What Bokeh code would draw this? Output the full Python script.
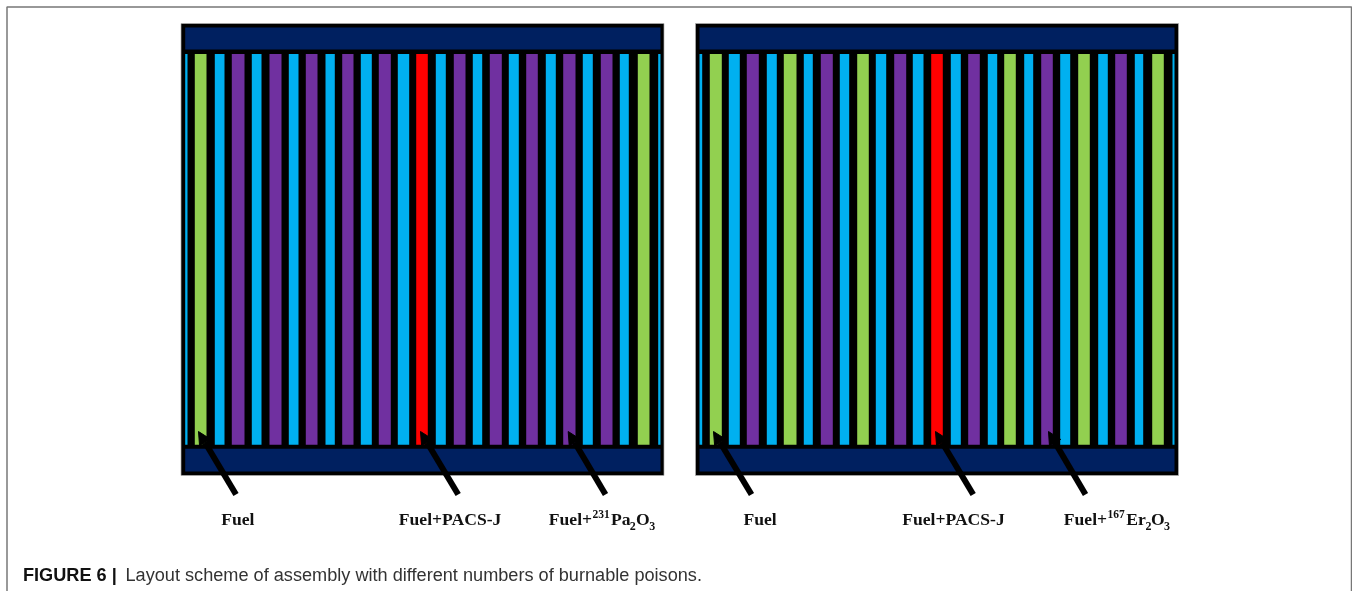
from bokeh.plotting import figure
from bokeh.models import Range1d, ColumnDataSource, Arrow, NormalHead
from bokeh.core.properties import value
from bokeh.embed import file_html
from bokeh.resources import INLINE

# rod kinds, read left to right
left_kinds = ["blue","green","blue","purple","blue","purple","blue","purple","blue","purple","blue","purple","blue","red",
              "blue","purple","blue","purple","blue","purple","blue","purple","blue","purple","blue","green","blue"]
left_from = [184.7,194.3,214.3,231.3,251.3,269,288.3,305.3,325,341.7,360.3,378.3,397.3,415.7,
             435.3,453.3,472.3,489.3,508.3,525.7,545.3,562.7,582.3,600.3,619.3,637.3,657.7]
left_to = [187,206,224,244,261,281,298,317,334.3,353,371.3,390.3,408.7,427.3,
           445.3,465,481.7,501.3,518.3,537.3,555.3,575,592.3,612,628.3,649,660]
right_kinds = ["blue","green","blue","purple","blue","green","blue","purple","blue","green","blue","purple","blue","red",
               "blue","purple","blue","green","blue","purple","blue","green","blue","purple","blue","green","blue"]
right_from = [699,709.3,728.3,746.3,766.3,783.3,803.3,820.3,839.3,856.7,875.3,893.7,912.3,930.7,
              950.3,967.7,987.3,1003.7,1023.7,1040.7,1059.7,1077.7,1097.7,1114.7,1134.3,1151.7,1172]
right_to = [701.7,721.3,739.3,758.3,776.3,796,812.3,832.3,848.7,868.3,885.7,905.7,923,942.3,
            960.3,979.3,996.7,1015.3,1032.7,1052.3,1069.7,1089.3,1107.3,1126.3,1142.7,1163.3,1174]
rod_top = 53.5
rod_bottom = 444.3

panel_left = [180.5, 695]
panel_right = [663.5, 1178]
panel_top = 23
panel_bottom = 475
band_left = [184.7, 699]
band_right = [660, 1174]
band_top = [27, 448.3]
band_bottom = [49, 471]

arrow_tail_x = [235.5, 457.7, 605, 751, 972.7, 1085]
arrow_tip_x = [198, 420, 567.7, 713, 935, 1048]
arrow_tail_y = 494
arrow_tip_y = 431

labels = ["Fuel", "Fuel+PACS-J", "Fuel+", "Pa", "O", "Fuel", "Fuel+PACS-J", "Fuel+", "Er", "O"]
label_x = [220.7, 398.3, 548.3, 610.5, 635.5, 743, 901.7, 1063.3, 1125.7, 1150.5]
label_y = 518.5
sup_text = ["231", "167"]
sup_x = [592, 1107]
sup_y = 513.5
sub_text = ["2", "3", "2", "3"]
sub_x = [629.3, 648.7, 1145, 1163.4]
sub_y = 525.5

caption_bold = "FIGURE 6 |"
caption_text = "Layout scheme of assembly with different numbers of burnable poisons."
caption_y = 574

COLORS = {"blue": "#00B0F0", "green": "#92D050", "purple": "#7030A0", "red": "#FF0000"}
NAVY = "#002060"

p = figure(width=1352, height=591, output_backend="svg", toolbar_location=None,
           x_range=Range1d(0, 1352), y_range=Range1d(591, 0),
           min_border=0, min_border_left=0, min_border_right=0, min_border_top=0, min_border_bottom=0,
           outline_line_color=None, background_fill_color="white", border_fill_color="white")
p.styles = {"position": "fixed", "left": "0px", "top": "0px"}
p.xaxis.visible = False
p.yaxis.visible = False
p.grid.visible = False

# surrounding page frame
p.line([6.5, 6.5, 1351, 1351], [591, 6.5, 6.5, 591], line_color="#777777", line_width=1.5)

# panels
p.quad(left=panel_left, right=panel_right, top=[panel_top]*2, bottom=[panel_bottom]*2,
       fill_color="black", line_color="#b0b0b0", line_width=0.7)
for t, b in zip(band_top, band_bottom):
    p.quad(left=band_left, right=band_right, top=[t]*2, bottom=[b]*2, fill_color=NAVY, line_color=None)

# rods
for kinds, x0, x1 in ((left_kinds, left_from, left_to), (right_kinds, right_from, right_to)):
    p.quad(left=x0, right=x1, top=[rod_top]*len(x0), bottom=[rod_bottom]*len(x0),
           fill_color=[COLORS[k] for k in kinds], line_color=None)

# arrows
src = ColumnDataSource(dict(x0=arrow_tail_x, x1=arrow_tip_x, y0=[arrow_tail_y]*6, y1=[arrow_tip_y]*6))
p.add_layout(Arrow(source=src, x_start="x0", y_start="y0", x_end="x1", y_end="y1",
                   line_color="black", line_width=6,
                   end=NormalHead(size=13, fill_color="black", line_color="black")))

# labels
serif = dict(text_font=value("Liberation Serif"), text_font_style="bold", text_align="left",
             text_baseline="alphabetic", text_color="#111111")
p.text(x=label_x, y=[label_y]*len(labels), text=labels, text_font_size="17.6px", **serif)
p.text(x=sup_x, y=[sup_y]*2, text=sup_text, text_font_size="11.5px", **serif)
p.text(x=sub_x, y=[sub_y]*4, text=sub_text, text_font_size="12px", **serif)

# caption
p.text(x=[22.5], y=[caption_y], text=[caption_bold], text_font=value("Liberation Sans"), text_font_style="bold",
       text_font_size="18.15px", text_baseline="alphabetic", text_color="#111111")
p.text(x=[125], y=[caption_y], text=[caption_text], text_font=value("Liberation Sans"),
       text_font_size="18.15px", text_baseline="alphabetic", text_color="#333333")

open("out.html", "w").write(file_html(p, INLINE))
